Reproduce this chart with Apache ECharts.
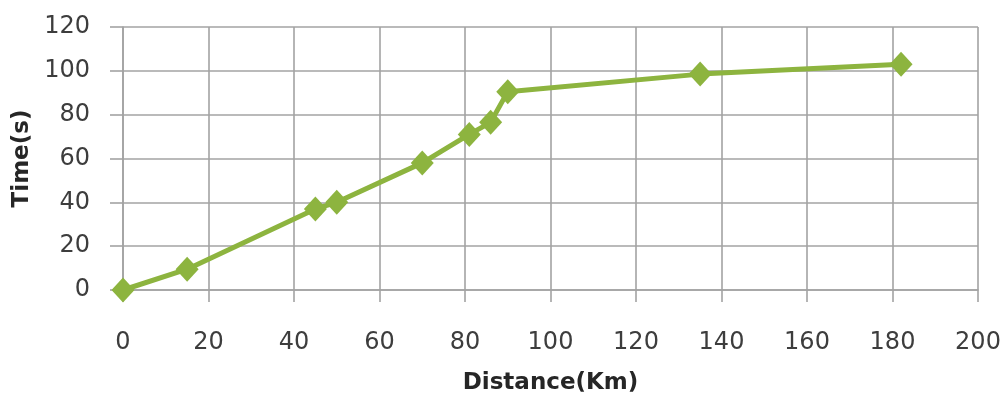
<!DOCTYPE html>
<html>
<head>
<meta charset="utf-8">
<script src="https://cdn.jsdelivr.net/npm/echarts@6/dist/echarts.min.js"></script>
<style>html,body{margin:0;padding:0;background:#fff;}#c{width:1008px;height:401px;}</style>
</head>
<body>
<div id="c"></div>
<script>
const distances = [0, 15, 45, 50, 70, 81, 86, 90, 135, 182];
const times = [0, 9.5, 37, 40, 58, 71, 76.5, 90.5, 98.5, 103];
const xAxisName = 'Distance(Km)';
const yAxisName = 'Time(s)';

const points = distances.map((d, i) => [d, times[i]]);
const gridStyle = { color: '#a3a3a3', width: 1.6 };
const chart = echarts.init(document.getElementById('c'));
chart.setOption({
  backgroundColor: '#ffffff',
  animation: false,
  grid: { left: 123, right: 30, top: 27, bottom: 111 },
  xAxis: {
    type: 'value', min: 0, max: 200, interval: 20,
    name: xAxisName, nameLocation: 'middle', nameGap: 82,
    nameTextStyle: { fontFamily: 'DejaVu Sans', fontWeight: 'bold', fontSize: 23, color: '#262626' },
    axisLine: { show: true, lineStyle: gridStyle },
    axisTick: { show: true, length: 12, lineStyle: gridStyle },
    splitLine: { show: true, lineStyle: gridStyle },
    axisLabel: { margin: 41, fontFamily: 'DejaVu Sans', fontSize: 24, color: '#3d3d3d' }
  },
  yAxis: {
    type: 'value', min: 0, max: 120, interval: 20,
    name: yAxisName, nameLocation: 'middle', nameGap: 78, nameRotate: 90,
    nameTextStyle: { fontFamily: 'DejaVu Sans', fontWeight: 'bold', fontSize: 23, color: '#262626' },
    axisLine: { show: true, lineStyle: gridStyle },
    axisTick: { show: true, length: 13, lineStyle: gridStyle },
    splitLine: { show: true, lineStyle: gridStyle },
    axisLabel: { margin: 33, fontFamily: 'DejaVu Sans', fontSize: 24, color: '#3d3d3d' }
  },
  series: [{
    type: 'line',
    data: points,
    symbol: 'diamond',
    symbolSize: [23, 25],
    lineStyle: { color: '#8DB43F', width: 5 },
    itemStyle: { color: '#8DB43F' }
  }]
});
</script>
</body>
</html>
